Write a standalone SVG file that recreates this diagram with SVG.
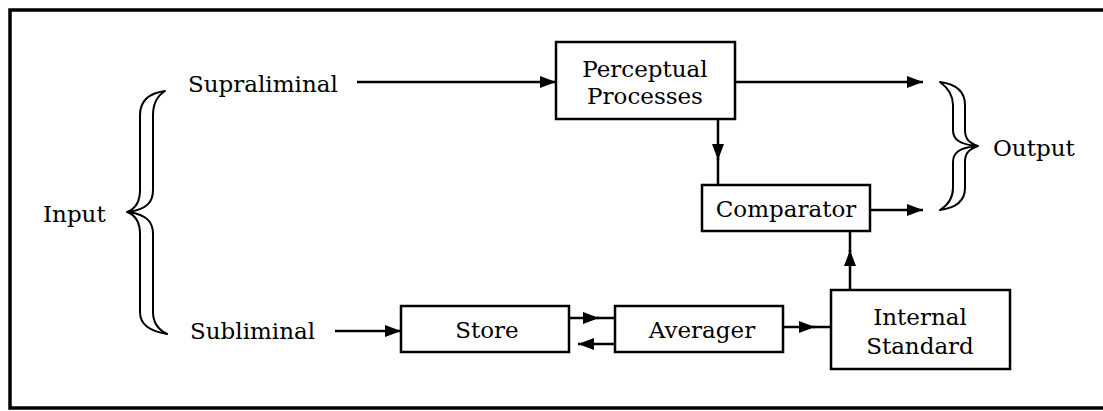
<svg xmlns="http://www.w3.org/2000/svg" width="1103" height="411" viewBox="0 0 1103 411">
<style>
  .box { fill: #fff; stroke: #000; stroke-width: 2.5; }
  .lbl { font-family: "DejaVu Serif", "Liberation Serif", serif; font-size: 23px; fill: #000; }
  .mid { text-anchor: middle; }
  .conn { fill: none; stroke: #000; stroke-width: 2.5; }
  .brace { fill: #fff; stroke: #000; stroke-width: 2; stroke-linejoin: round; }
</style>
<defs>
  <marker id="ah" markerUnits="userSpaceOnUse" markerWidth="17" markerHeight="13" refX="16" refY="6" orient="auto">
    <path d="M0,0 L16,6 L0,12 z" fill="#000"/>
  </marker>
</defs>
<rect width="1103" height="411" fill="#fff"/>
<path d="M1103,10 H10 V408 H1103" fill="none" stroke="#000" stroke-width="3.5"/>

<g id="input">
  <text class="lbl" x="43" y="222">Input</text>
  <path class="brace" d="M165,91 C150,93 140,100 140,115 L140,190 C140,203 135,209 127,212 C135,215 140,221 140,234 L140,312 C140,325 150,331 167,334 C157,329 153,322 153,312 L153,234 C153,222 147,215 129,212 C147,209 153,202 153,190 L153,115 C153,103 157,96 165,91 Z"/>
</g>
<g id="supraliminal"><text class="lbl" x="188" y="92">Supraliminal</text></g>
<g id="subliminal"><text class="lbl" x="190" y="339">Subliminal</text></g>

<g id="perceptual">
  <rect class="box" x="556" y="42" width="179" height="77"/>
  <text class="lbl mid" x="645" y="77">Perceptual</text>
  <text class="lbl mid" x="645" y="104">Processes</text>
</g>
<g id="comparator">
  <rect class="box" x="702" y="185" width="168" height="46"/>
  <text class="lbl mid" x="786" y="217">Comparator</text>
</g>
<g id="store">
  <rect class="box" x="401" y="306" width="168" height="46"/>
  <text class="lbl mid" x="487" y="338">Store</text>
</g>
<g id="averager">
  <rect class="box" x="615" y="306" width="168" height="46"/>
  <text class="lbl mid" x="702" y="338">Averager</text>
</g>
<g id="internal-standard">
  <rect class="box" x="831" y="290" width="179" height="79"/>
  <text class="lbl mid" x="920" y="325">Internal</text>
  <text class="lbl mid" x="920" y="354">Standard</text>
</g>
<g id="output">
  <path class="brace" d="M940,82 C955,84 965,90 965,105 L965,130 C965,140 970,143 978,146 C970,149 965,152 965,162 L965,188 C965,202 955,208 940,210 C948,205 953,199 953,188 L953,162 C953,152 960,148 976,146 C960,144 953,140 953,130 L953,105 C953,95 948,88 940,82 Z"/>
  <text class="lbl" x="993" y="156">Output</text>
</g>

<g id="connectors">
  <path class="conn" d="M357,82 H556" marker-end="url(#ah)"/>
  <path class="conn" d="M735,82 H923" marker-end="url(#ah)"/>
  <path class="conn" d="M718,119 V160" marker-end="url(#ah)"/>
  <path class="conn" d="M718,158 V185"/>
  <path class="conn" d="M870,210 H923" marker-end="url(#ah)"/>
  <path class="conn" d="M335,331 H401" marker-end="url(#ah)"/>
  <path class="conn" d="M569,318 H599" marker-end="url(#ah)"/>
  <path class="conn" d="M597,318 H615"/>
  <path class="conn" d="M615,344 H578" marker-end="url(#ah)"/>
  <path class="conn" d="M783,327 H815" marker-end="url(#ah)"/>
  <path class="conn" d="M813,327 H831"/>
  <path class="conn" d="M850,290 V250" stroke-width="3.5" marker-end="url(#ah)"/>
  <path class="conn" d="M850,252 V231" stroke-width="3.5"/>
</g>
</svg>
